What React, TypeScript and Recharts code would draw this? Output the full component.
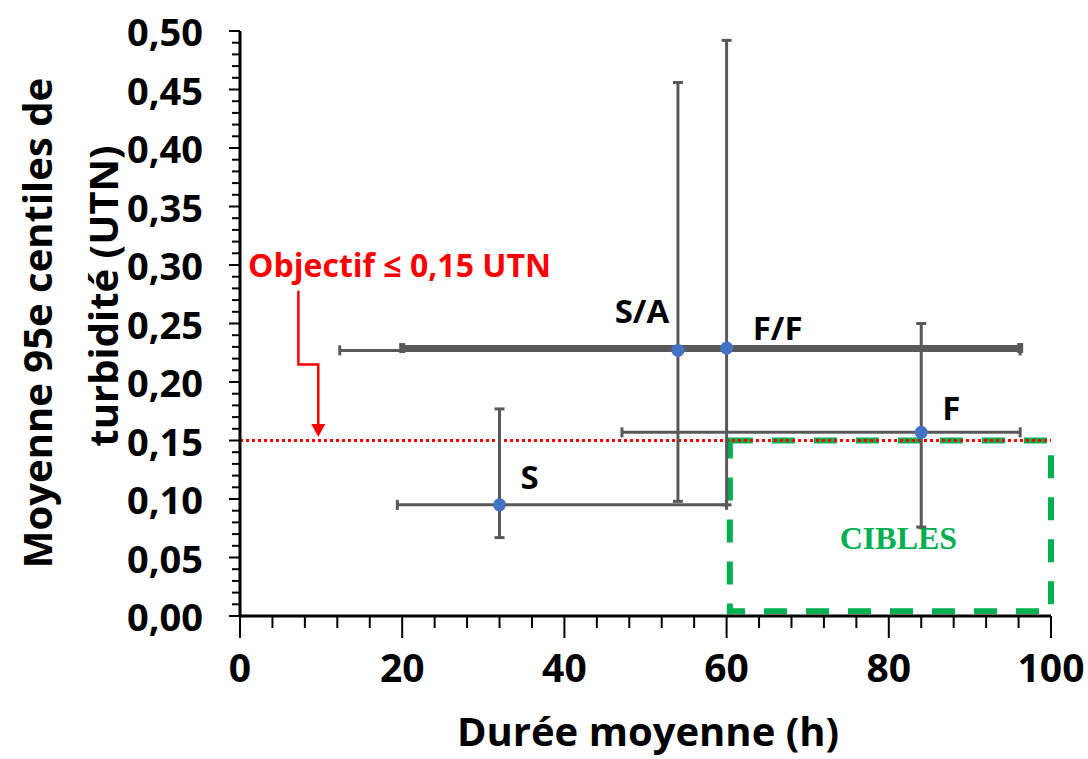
import { ScatterChart, Scatter, XAxis, YAxis, ErrorBar, ReferenceLine, ReferenceArea, ReferenceDot } from 'recharts';

// points: mean duration (h) vs mean 95th percentile turbidity (UTN)
const categories = ['S', 'S/A', 'F/F', 'F'];
const dureeMoy = [32, 54, 60, 84];
const dureeMin = [19.4, 12.3, 20, 47.1];
const dureeMax = [60, 96.2, 96.2, 96.2];
const turbMoy = [0.095, 0.227, 0.229, 0.157];
const turbMin = [0.067, 0.098, 0.095, 0.076];
const turbMax = [0.177, 0.456, 0.492, 0.25];

const objectif = 0.15;
const cibleX = [60.4, 100];
const cibleY = [0.004, 0.15];

// arrow from the "Objectif" label down to the red line
const arrowX = [7.2, 7.2, 9.65, 9.65];
const arrowY = [0.278, 0.215, 0.215, 0.163];
const arrowTip = { x: 9.65, y: 0.153 };

const xTicks = [0, 4, 8, 12, 16, 20, 24, 28, 32, 36, 40, 44, 48, 52, 56, 60, 64, 68, 72, 76, 80, 84, 88, 92, 96, 100];
const yTicks: number[] = [];
for (let i = 0; i <= 50; i++) yTicks.push(i / 100);

const FONT = '"Open Sans", Calibri, sans-serif';
const GREY = '#595959';

const rows = categories.map((name, i) => ({
  name,
  x: dureeMoy[i],
  y: turbMoy[i],
  xErr: [dureeMoy[i] - dureeMin[i], dureeMax[i] - dureeMoy[i]],
  yErr: [turbMoy[i] - turbMin[i], turbMax[i] - turbMoy[i]],
}));

const arrowPts = arrowX.map((x, i) => ({ x, y: arrowY[i] }));

// label offsets (px) from each point
const labelOffset: Record<string, [number, number]> = {
  S: [30, -28],
  'S/A': [-36, -40],
  'F/F': [51, -21],
  F: [30, -25],
};

const fmt = (v: number) => v.toFixed(2).replace('.', ',');

const YTick = (props: any) => {
  const { x, y, payload } = props;
  const v = payload.value;
  const major = Math.abs(v / 0.05 - Math.round(v / 0.05)) < 1e-6;
  return (
    <g>
      <line x1={x} x2={x - (major ? 11 : 8)} y1={y} y2={y} stroke="#000" strokeWidth={2} />
      {major && (
        <text x={x - 37} y={y} textAnchor="end" dominantBaseline="central" fontFamily={FONT} fontWeight={700} fontSize={38} fill="#000">
          {fmt(v)}
        </text>
      )}
    </g>
  );
};

const XTick = (props: any) => {
  const { x, y, payload } = props;
  const v = payload.value;
  const major = v % 20 === 0;
  return (
    <g>
      <line x1={x} x2={x} y1={y} y2={y + (major ? 22 : 12)} stroke="#000" strokeWidth={2} />
      {major && (
        <text x={x} y={y + 66} textAnchor="middle" fontFamily={FONT} fontWeight={700} fontSize={39} fill="#000">
          {v}
        </text>
      )}
    </g>
  );
};

const Hidden = () => <g />;

export default function App() {
  return (
    <div style={{ position: 'absolute', left: 0, top: 0, width: 1088, height: 759, background: '#fff' }}>
      <ScatterChart width={1088} height={759} margin={{ top: 31, right: 37, bottom: 0, left: 0 }}>
        <XAxis
          type="number"
          dataKey="x"
          domain={[0, 100]}
          ticks={xTicks}
          interval={0}
          tickLine={false}
          tickSize={0}
          tickMargin={0}
          axisLine={{ stroke: '#000', strokeWidth: 3 }}
          tick={(p: any) => <XTick {...p} />}
          height={143}
          label={() => (
            <text x={648} y={746} textAnchor="middle" fontFamily={FONT} fontWeight={700} fontSize={40} fill="#000">
              Durée moyenne (h)
            </text>
          )}
        />
        <YAxis
          type="number"
          dataKey="y"
          domain={[0, 0.5]}
          ticks={yTicks}
          interval={0}
          tickLine={false}
          tickSize={0}
          tickMargin={0}
          axisLine={{ stroke: '#000', strokeWidth: 3 }}
          tick={(p: any) => <YTick {...p} />}
          width={240}
          label={() => (
            <g fontFamily={FONT} fontWeight={700} fontSize={40} fill="#000">
              <text transform="translate(36,323) rotate(-90)" textAnchor="middle" dominantBaseline="central">
                Moyenne 95e centiles de
              </text>
              <text transform="translate(102,296) rotate(-90)" textAnchor="middle" dominantBaseline="central">
                turbidité (UTN)
              </text>
            </g>
          )}
        />

        <ReferenceArea
          x1={cibleX[0]}
          x2={cibleX[1]}
          y1={cibleY[0]}
          y2={cibleY[1]}
          fill="none"
          fillOpacity={0}
          stroke="#00b050"
          strokeWidth={6}
          strokeDasharray="23 19"
          label={(p: any) => {
            const vb = p.viewBox;
            return (
              <text
                x={vb.x + vb.width / 2 + 8}
                y={vb.y + vb.height / 2 + 12}
                textAnchor="middle"
                dominantBaseline="central"
                fontFamily='"Liberation Serif", "Times New Roman", serif'
                fontWeight={700}
                fontSize={32}
                fill="#00b050"
              >
                CIBLES
              </text>
            );
          }}
        />
        <ReferenceLine y={objectif} stroke="#ff0000" strokeWidth={3} strokeDasharray="3 3" />

        <Scatter data={arrowPts} line={{ stroke: '#ff0000', strokeWidth: 2.5 }} shape={Hidden} isAnimationActive={false} />
        <ReferenceDot
          x={arrowTip.x}
          y={arrowTip.y}
          r={0}
          shape={(p: any) => (
            <polygon points={`${p.cx},${p.cy} ${p.cx - 7},${p.cy - 13} ${p.cx + 7},${p.cy - 13}`} fill="#ff0000" />
          )}
        />
        <ReferenceDot
          x={1}
          y={0.29}
          r={0}
          shape={(p: any) => (
            <text x={p.cx} y={p.cy} fontFamily={FONT} fontWeight={700} fontSize={32} fill="#ff0000">
              Objectif ≤ 0,15 UTN
            </text>
          )}
        />

        {rows.map((r) => (
          <Scatter key={r.name} data={[r]} shape={Hidden} isAnimationActive={false}>
            <ErrorBar dataKey="xErr" direction="x" stroke={GREY} strokeWidth={r.name === 'F/F' ? 6 : 3} width={5} />
            <ErrorBar dataKey="yErr" direction="y" stroke={GREY} strokeWidth={3} width={5} />
          </Scatter>
        ))}

        <Scatter
          data={rows}
          isAnimationActive={false}
          shape={(p: any) => {
            const [dx, dy] = labelOffset[p.payload.name];
            return (
              <g>
                <circle cx={p.cx} cy={p.cy} r={6.5} fill="#4472c4" />
                <text x={p.cx + dx} y={p.cy + dy} textAnchor="middle" dominantBaseline="central" fontFamily={FONT} fontWeight={700} fontSize={33} fill="#000">
                  {p.payload.name}
                </text>
              </g>
            );
          }}
        />
      </ScatterChart>
    </div>
  );
}
